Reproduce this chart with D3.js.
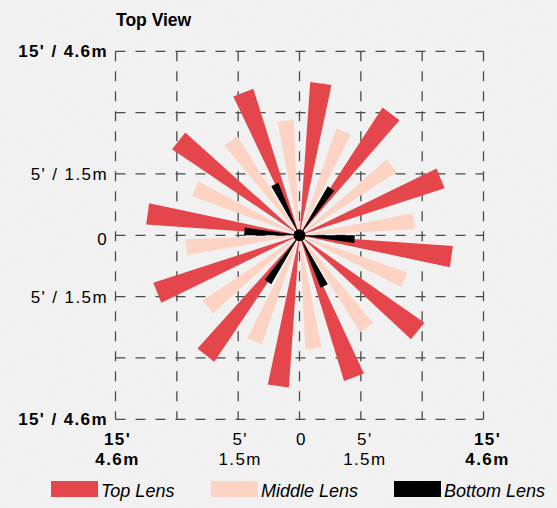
<!DOCTYPE html>
<html>
<head>
<meta charset="utf-8">
<script src="https://cdn.jsdelivr.net/npm/d3@7"></script>
<style>
  html, body { margin: 0; padding: 0; background: #f2f2f2; }
  svg { display: block; font-family: "Liberation Sans", Helvetica, Arial, sans-serif; }
</style>
</head>
<body>
<svg id="chart" width="557" height="508"></svg>
<script>
/*global d3*/
"use strict";

// bearing in degrees (0 = up, clockwise), reach in feet
var topAngles = [8, 37, 68, 98, 129, 159, 188, 218, 248, 278, 308, 338.5],
  topReach = [12.5, 12.4, 12.4, 12.5, 12.4, 12.4, 12.4, 12.4, 12.5, 12.5, 12.5, 12.5],
  middleAngles = [353, 23, 53, 83, 113, 144, 173, 203, 232, 264, 294, 324],
  middleReach = [9.4, 9.2, 9.4, 9.4, 9.3, 9.3, 9.3, 9.4, 9.5, 9.3, 9.3, 9.5],
  bottomAngles = [34, 94, 154, 214, 274, 334],
  bottomReach = [4.6, 4.5, 4.6, 4.6, 4.5, 4.6],
  gridTicks = [-15, -10, -5, 0, 5, 10, 15],
  sideLabels = [
    {v: 15, text: "15' / 4.6m", bold: true},
    {v: 5, text: "5' / 1.5m", bold: false},
    {v: 0, text: "0", bold: false},
    {v: -5, text: "5' / 1.5m", bold: false},
    {v: -15, text: "15' / 4.6m", bold: true}
  ],
  bottomLabels = [
    {v: -15, ft: "15'", m: "4.6m", bold: true},
    {v: -5, ft: "5'", m: "1.5m", bold: false},
    {v: 0, ft: "0", m: "", bold: false},
    {v: 5, ft: "5'", m: "1.5m", bold: false},
    {v: 15, ft: "15'", m: "4.6m", bold: true}
  ],
  legendItems = ["Top Lens", "Middle Lens", "Bottom Lens"];

var colors = {top: "#e4464b", middle: "#fdd4c4", bottom: "#000000"},
  halfWidth = 4 * Math.PI / 180,
  cx = 299.5,
  cy = 235.3;

var svg = d3.select("#chart");

// paper-like background
var defs = svg.append("defs");
var filter = defs.append("filter").attr("id", "paper");
filter.append("feTurbulence")
  .attr("type", "fractalNoise")
  .attr("baseFrequency", "0.9")
  .attr("numOctaves", 2)
  .attr("seed", 3);
filter.append("feColorMatrix")
  .attr("values", "0 0 0 0 0.5  0 0 0 0 0.5  0 0 0 0 0.5  0 0 0 0.07 0");

svg.append("rect").attr("width", 557).attr("height", 508).attr("fill", "#f3f3f3");
svg.append("rect").attr("width", 557).attr("height", 508).attr("filter", "url(#paper)");

var x = d3.scaleLinear().domain([-15, 15]).range([cx - 184, cx + 184]),
  y = d3.scaleLinear().domain([-15, 15]).range([cy + 184, cy - 184]),
  r = d3.scaleLinear().domain([0, 15]).range([0, 184]);

// dashed grid
var grid = svg.append("g")
  .attr("stroke", "#4a4a4a")
  .attr("stroke-width", 1.3)
  .attr("stroke-dasharray", "10,10");

grid.selectAll(".v")
  .data(gridTicks)
  .enter()
  .append("line")
  .attr("x1", function (d) { return x(d); })
  .attr("x2", function (d) { return x(d); })
  .attr("y1", y(15))
  .attr("y2", y(-15));

grid.selectAll(".h")
  .data(gridTicks)
  .enter()
  .append("line")
  .attr("y1", function (d) { return y(d); })
  .attr("y2", function (d) { return y(d); })
  .attr("x1", x(-15))
  .attr("x2", x(15));

// wedges: a thin triangle from the sensor out to a flat end
var radial = d3.lineRadial()
  .angle(function (p) { return p[0]; })
  .radius(function (p) { return p[1]; });

function wedge(angle, reach) {
  var a = angle * Math.PI / 180,
    outer = r(reach) / Math.cos(halfWidth);
  return radial([[a, 0], [a - halfWidth, outer], [a + halfWidth, outer]]) + "Z";
}

function drawLens(angles, reach, color) {
  svg.append("g")
    .attr("transform", "translate(" + cx + "," + cy + ")")
    .selectAll("path")
    .data(angles)
    .enter()
    .append("path")
    .attr("d", function (d, i) { return wedge(d, reach[i]); })
    .attr("fill", color);
}

drawLens(middleAngles, middleReach, colors.middle);
drawLens(topAngles, topReach, colors.top);
drawLens(bottomAngles, bottomReach, colors.bottom);

svg.append("circle")
  .attr("cx", cx)
  .attr("cy", cy)
  .attr("r", 6)
  .attr("fill", "#000");

// titles and labels
svg.append("text")
  .attr("x", 116)
  .attr("y", 26)
  .attr("font-size", 17.5)
  .attr("font-weight", "bold")
  .text("Top View");

svg.selectAll(".side")
  .data(sideLabels)
  .enter()
  .append("text")
  .attr("x", 108)
  .attr("y", function (d) { return y(d.v) + (d.v === 0 ? 10 : 6); })
  .attr("text-anchor", "end")
  .attr("font-size", 17)
  .attr("letter-spacing", 1.4)
  .attr("font-weight", function (d) { return d.bold ? "bold" : "normal"; })
  .text(function (d) { return d.text; });

var bl = svg.selectAll(".bottom")
  .data(bottomLabels)
  .enter()
  .append("text")
  .attr("text-anchor", "middle")
  .attr("font-size", 17)
  .attr("letter-spacing", 1.4)
  .attr("font-weight", function (d) { return d.bold ? "bold" : "normal"; });

bl.append("tspan")
  .attr("x", function (d) { return x(d.v) + 2 + (d.v > 0 ? 2 : 0); })
  .attr("y", 445)
  .text(function (d) { return d.ft; });

bl.append("tspan")
  .attr("x", function (d) { return x(d.v) + 2 + (d.v > 0 ? 2 : 0); })
  .attr("y", 465)
  .text(function (d) { return d.m; });

// legend
var legendX = [51, 211, 394],
  legendColors = [colors.top, colors.middle, colors.bottom];

var lg = svg.selectAll(".legend")
  .data(legendItems)
  .enter()
  .append("g")
  .attr("transform", function (d, i) { return "translate(" + legendX[i] + ",481)"; });

lg.append("rect")
  .attr("width", 47)
  .attr("height", 16)
  .attr("fill", function (d, i) { return legendColors[i]; });

lg.append("text")
  .attr("x", 50)
  .attr("y", 16)
  .attr("font-size", 18)
  .attr("font-style", "italic")
  .text(function (d) { return d; });
</script>
</body>
</html>
